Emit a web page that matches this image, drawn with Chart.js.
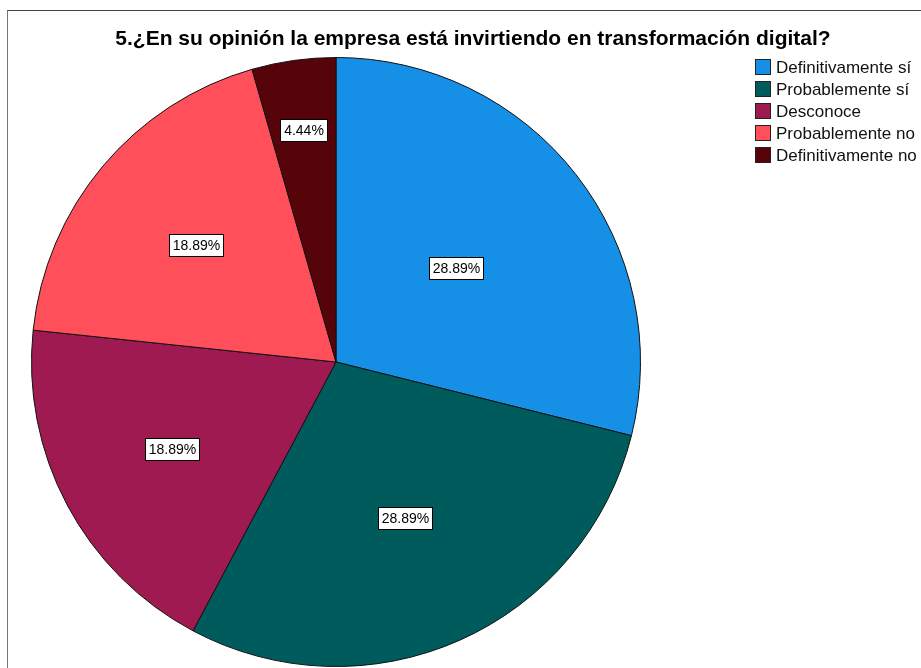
<!DOCTYPE html>
<html>
<head>
<meta charset="utf-8">
<script src="https://cdn.jsdelivr.net/npm/chart.js@4/dist/chart.umd.min.js"></script>
<style>
    body { margin: 0; background: #fff; overflow: hidden; }
    #wrap { position: relative; width: 921px; height: 668px; }
    #frame {
        position: absolute; left: 7px; top: 10px; width: 930px; height: 700px;
        border-top: 1px solid #444; border-left: 1px solid #777;
    }
    #title {
        position: absolute; left: 0; top: 26px; width: 946px; text-align: center;
        font: bold 21px "Liberation Sans", Arial, sans-serif; color: #000;
    }
    #legend { position: absolute; left: 755px; top: 59px; font: 17px "Liberation Sans", Arial, sans-serif; color: #111; }
    #legend div { height: 22px; line-height: 17px; white-space: nowrap; }
    #legend span.box {
        display: inline-block; width: 14px; height: 14px; border: 1px solid #222;
        vertical-align: top; margin-right: 5px;
    }
    canvas { position: absolute; left: 0; top: 0; }
</style>
</head>
<body>
<div id="wrap">
    <div id="frame"></div>
    <canvas id="myChart" width="921" height="668"></canvas>
    <div id="title">5.¿En su opinión la empresa está invirtiendo en transformación digital?</div>
    <div id="legend"></div>
</div>
<script>
var categories = ["Definitivamente sí", "Probablemente sí", "Desconoce", "Probablemente no", "Definitivamente no"];
var counts = [26, 26, 17, 17, 4];
var sliceColors = ["#1590e6", "#005c5c", "#9e1a50", "#ff4f5a", "#560409"];

// how far out (share of radius) each percent box sits
var labelDepth = [0.50, 0.56, 0.61, 0.60, 0.77];

var total = counts.reduce(function(a, b) { return a + b; }, 0);

var boxLabels = {
    id: "boxLabels",
    afterDatasetsDraw: function(chart) {
        var ctx = chart.ctx;
        var arcs = chart.getDatasetMeta(0).data;
        ctx.save();
        ctx.font = "14px 'Liberation Sans', Arial, sans-serif";
        ctx.textAlign = "center";
        ctx.textBaseline = "middle";
        arcs.forEach(function(arc, i) {
            var mid = (arc.startAngle + arc.endAngle) / 2;
            var r = arc.outerRadius * labelDepth[i];
            var x = arc.x + Math.cos(mid) * r;
            var y = arc.y + Math.sin(mid) * r;
            var txt = (counts[i] / total * 100).toFixed(2) + "%";
            var w = Math.round(ctx.measureText(txt).width + 7);
            var h = 22;
            var bx = Math.round(x - w / 2) + 0.5;
            var by = Math.round(y - h / 2) + 0.5;
            ctx.fillStyle = "#fff";
            ctx.fillRect(bx, by, w, h);
            ctx.strokeStyle = "#000";
            ctx.lineWidth = 1;
            ctx.strokeRect(bx, by, w, h);
            ctx.fillStyle = "#000";
            ctx.fillText(txt, bx + w / 2, by + h / 2 + 1);
        });
        ctx.restore();
    }
};

var chart = new Chart("myChart", {
    type: "pie",
    data: {
        labels: categories,
        datasets: [{
            data: counts,
            backgroundColor: sliceColors,
            borderColor: "#111",
            borderWidth: 1,
            hoverOffset: 0
        }]
    },
    options: {
        responsive: false,
        animation: false,
        layout: { padding: { left: 31, right: 280, top: 57, bottom: 1 } },
        plugins: {
            legend: { display: false },
            title: { display: false },
            tooltip: { enabled: false }
        }
    },
    plugins: [boxLabels]
});

var legendEl = document.getElementById("legend");
chart.data.labels.forEach(function(name, i) {
    var row = document.createElement("div");
    var box = document.createElement("span");
    box.className = "box";
    box.style.background = chart.data.datasets[0].backgroundColor[i];
    row.appendChild(box);
    row.appendChild(document.createTextNode(name));
    legendEl.appendChild(row);
});
</script>
</body>
</html>
